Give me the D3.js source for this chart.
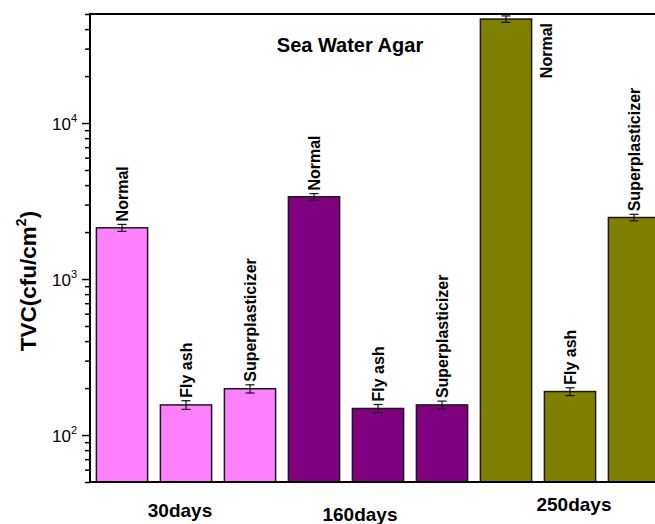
<!DOCTYPE html>
<html>
<head>
<meta charset="utf-8">
<script src="https://cdn.jsdelivr.net/npm/d3@7/dist/d3.min.js"></script>
<style>
  html, body { margin: 0; padding: 0; background: #fff; }
  svg { display: block; font-family: "Liberation Sans", Arial, sans-serif; }
</style>
</head>
<body>
<svg id="chart" width="655" height="524"></svg>
<script>
// Exposure periods (x groups) and specimen types (bars within each group)
const groups = ["30days", "160days", "250days"];
const materials = ["Normal", "Fly ash", "Superplasticizer"];

// Total viable count (cfu/cm²) per group, in material order
const tvc30 = [2130, 156, 198];
const tvc160 = [3370, 148, 156];
const tvc250 = [46400, 190, 2480];

// Standard deviations, same layout
const err30 = [110, 10, 12];
const err160 = [160, 9, 9];
const err250 = [2200, 11, 120];

// Decade ticks on the log axis
const majorTicks = [100, 1000, 10000];
const tickExponents = ["2", "3", "4"];

const groupColors = ["#FF80FF", "#800080", "#808000"];
const title = "Sea Water Agar";

const values = [tvc30, tvc160, tvc250];
const errors = [err30, err160, err250];

// Flatten into one record per bar
const bars = [];
groups.forEach((g, gi) => {
  materials.forEach((m, mi) => {
    bars.push({ key: g + "|" + m, group: g, gi, material: m, value: values[gi][mi], err: errors[gi][mi] });
  });
});

const svg = d3.select("#chart");
const plotLeft = 90, plotTop = 14, plotBottom = 482, plotRightEnd = 666, svgW = 655;

const x = d3.scaleBand()
  .domain(bars.map(d => d.key))
  .range([plotLeft, plotRightEnd])
  .paddingInner(0.2)
  .paddingOuter(0.1);

const y = d3.scaleLog()
  .domain([50, 50000])
  .range([plotBottom, plotTop]);

// Bars
svg.append("g").selectAll("rect")
  .data(bars)
  .join("rect")
  .attr("x", d => x(d.key))
  .attr("y", d => y(d.value))
  .attr("width", x.bandwidth())
  .attr("height", d => plotBottom - y(d.value))
  .attr("fill", d => groupColors[d.gi])
  .attr("stroke", "#1a1a1a")
  .attr("stroke-width", 1.5);

// Error bars
const capW = 9;
const eb = svg.append("g").attr("stroke", "#111").attr("stroke-width", 1.2);
bars.forEach(d => {
  const cx = x(d.key) + x.bandwidth() / 2;
  const y1 = y(d.value + d.err), y0 = y(d.value - d.err);
  eb.append("line").attr("x1", cx).attr("x2", cx).attr("y1", y1).attr("y2", y0);
  eb.append("line").attr("x1", cx - capW / 2).attr("x2", cx + capW / 2).attr("y1", y1).attr("y2", y1);
  eb.append("line").attr("x1", cx - capW / 2).attr("x2", cx + capW / 2).attr("y1", y0).attr("y2", y0);
});

// Rotated material labels above each bar (beside it when the bar reaches the top)
const labelFont = 16;
const labelRoom = 140;
svg.append("g").selectAll("text")
  .data(bars)
  .join("text")
  .attr("font-size", labelFont)
  .attr("font-weight", "bold")
  .attr("fill", "#000")
  .attr("text-anchor", d => y(d.value + d.err) - labelRoom < plotTop ? "end" : "start")
  .attr("transform", d => {
    const cx = x(d.key) + x.bandwidth() / 2;
    const yTop = y(d.value + d.err);
    if (yTop - labelRoom < plotTop) {
      return `translate(${x(d.key) + x.bandwidth() + 20},${plotTop + 9}) rotate(-90)`;
    }
    return `translate(${cx + 6},${yTop - 3}) rotate(-90)`;
  })
  .text(d => d.material);

// Left axis: minor ticks, then labelled decades
const minorTicks = y.ticks().filter(t => !majorTicks.includes(t));
svg.append("g")
  .attr("transform", `translate(${plotLeft},0)`)
  .call(d3.axisLeft(y).tickValues(minorTicks).tickSize(5).tickFormat(""))
  .call(g => g.select(".domain").remove())
  .call(g => g.selectAll("line").attr("stroke", "#000").attr("stroke-width", 1.5));

const major = svg.append("g")
  .attr("transform", `translate(${plotLeft},0)`)
  .call(d3.axisLeft(y).tickValues(majorTicks).tickSize(8).tickFormat(""))
  .call(g => g.select(".domain").remove())
  .call(g => g.selectAll("line").attr("stroke", "#000").attr("stroke-width", 1.5));

major.selectAll(".tick").each(function (t, i) {
  const txt = d3.select(this).append("text")
    .attr("x", -13)
    .attr("y", 6)
    .attr("text-anchor", "end")
    .attr("fill", "#000")
    .attr("font-size", 17);
  txt.append("tspan").text("10");
  txt.append("tspan").attr("font-size", 11).attr("dy", -8).text(tickExponents[i]);
});

// Frame: left axis line, bottom axis, top border
const frame = svg.append("g").attr("stroke", "#000").attr("stroke-width", 2).attr("fill", "none");
frame.append("line").attr("x1", plotLeft).attr("x2", plotLeft).attr("y1", plotTop - 1).attr("y2", plotBottom + 1);
frame.append("line").attr("x1", plotLeft - 1).attr("x2", svgW).attr("y1", plotBottom).attr("y2", plotBottom);
frame.append("line").attr("x1", plotLeft - 1).attr("x2", svgW).attr("y1", plotTop).attr("y2", plotTop);

// Group labels under the middle bar of each group
const catNudgeX = [-6, -18, 4];
const catBaseline = [517, 521, 511];
svg.append("g").selectAll("text")
  .data(groups)
  .join("text")
  .attr("x", (g, i) => x(g + "|" + materials[1]) + x.bandwidth() / 2 + catNudgeX[i])
  .attr("y", (g, i) => catBaseline[i])
  .attr("text-anchor", "middle")
  .attr("font-size", 19)
  .attr("font-weight", "bold")
  .attr("fill", "#000")
  .text(g => g);

// Title
svg.append("text")
  .attr("x", 350).attr("y", 52)
  .attr("text-anchor", "middle")
  .attr("font-size", 20)
  .attr("font-weight", "bold")
  .attr("fill", "#000")
  .text(title);

// Y axis title with superscript
const yt = svg.append("text")
  .attr("transform", "translate(36,281) rotate(-90)")
  .attr("text-anchor", "middle")
  .attr("font-size", 22.5)
  .attr("font-weight", "bold")
  .attr("fill", "#000");
yt.append("tspan").text("TVC(cfu/cm");
yt.append("tspan").attr("font-size", 14).attr("dy", -10).text("2");
yt.append("tspan").attr("dy", 10).text(")");
</script>
</body>
</html>
